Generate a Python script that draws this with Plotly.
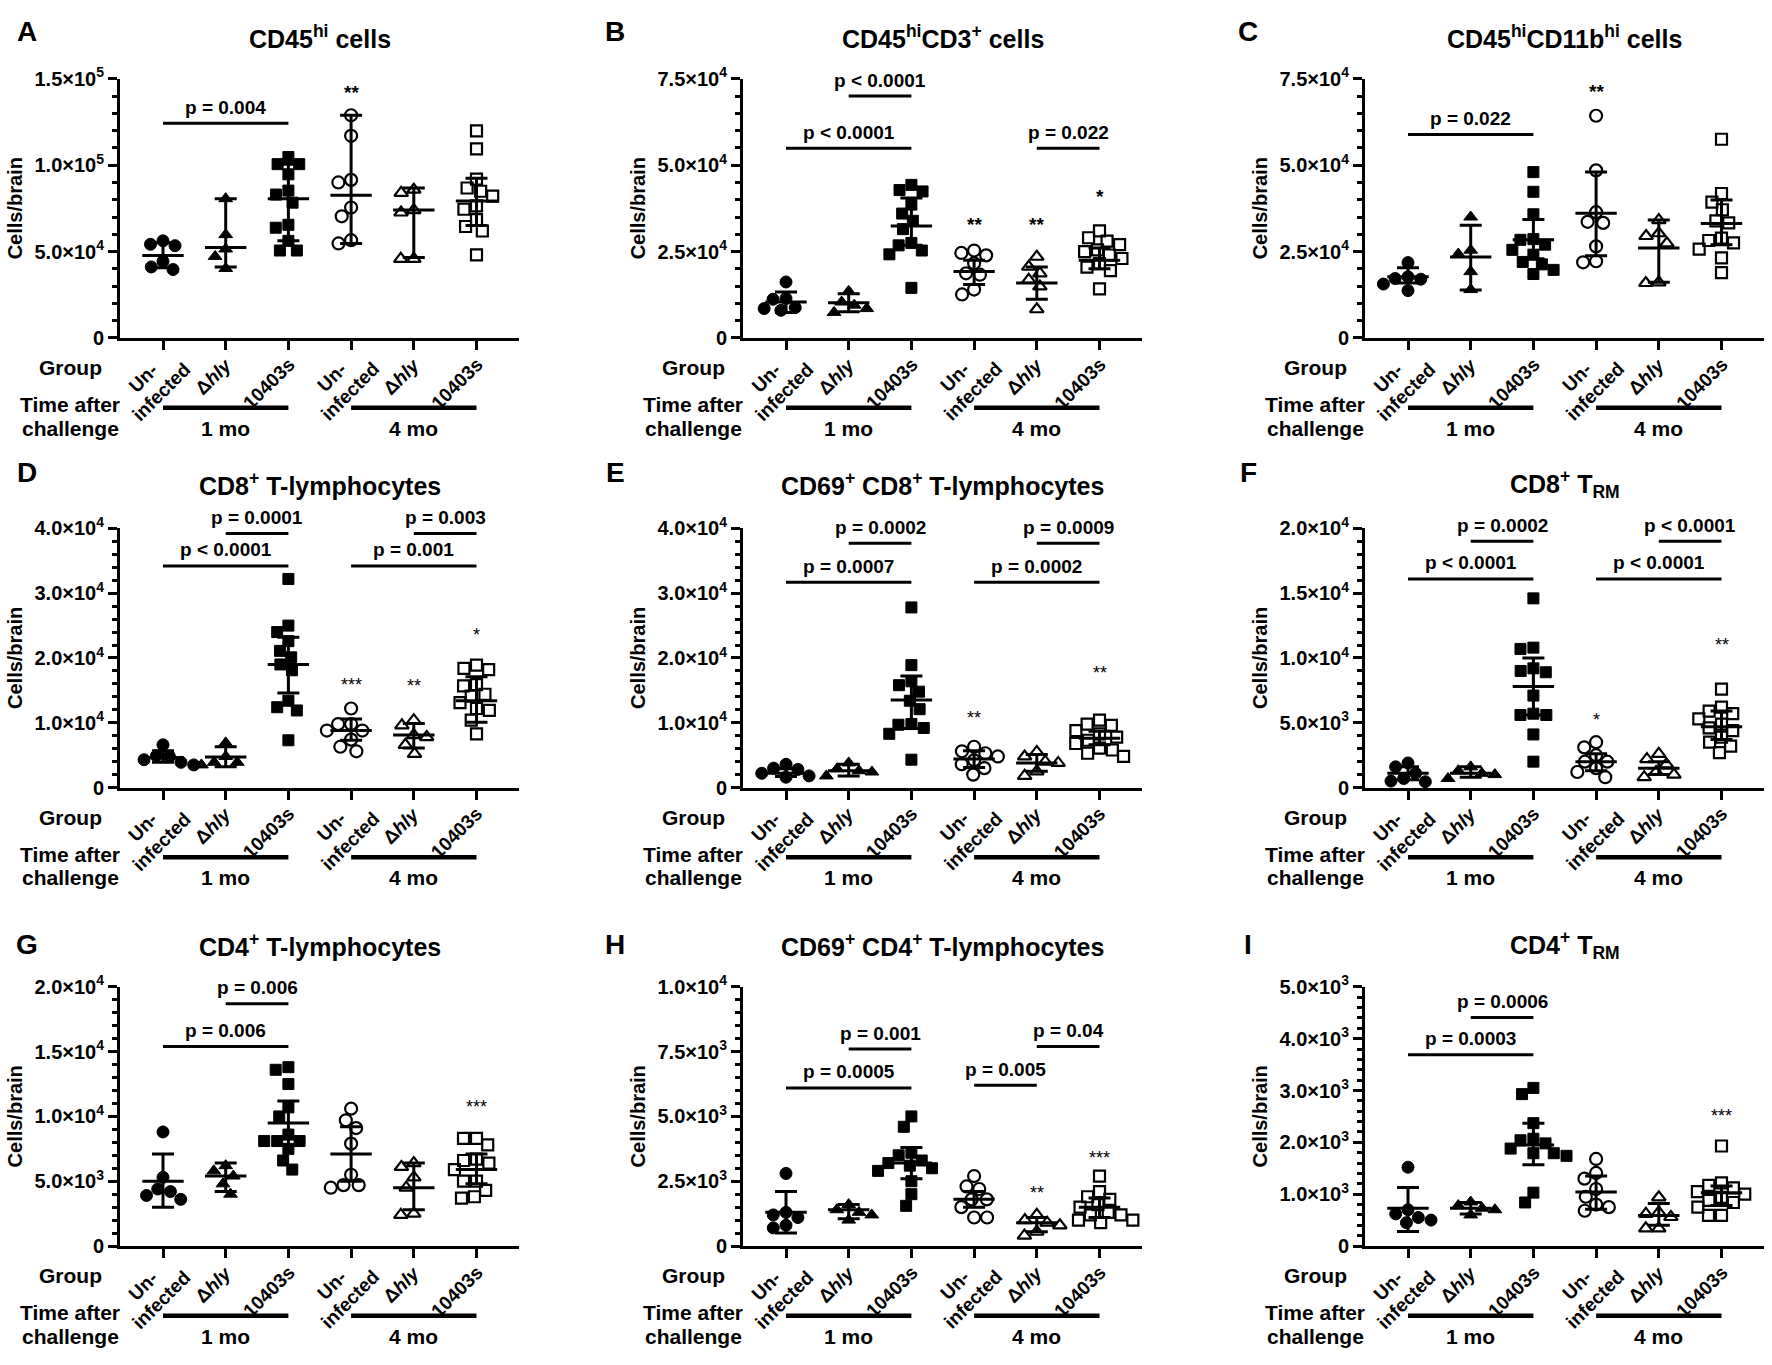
import numpy as np
import plotly.graph_objects as go

# values, in thousands of cells per brain
# group order: 1 mo (uninfected, dhly, 10403s), 4 mo (uninfected, dhly, 10403s)

# --- A: CD45hi cells
A_pts = [[56.2, 54.2, 53.4, 44.3, 41.1, 39.6],
         [80.6, 59.8, 51.5, 47.2, 40.2],
         [104.7, 100.6, 100.6, 94.7, 85.3, 83.0, 78.3, 65.5, 63.8, 56.2, 50.6, 50.6],
         [128.9, 117.0, 91.5, 90.0, 75.5, 70.4, 56.6, 54.7],
         [85.8, 84.0, 74.0, 72.6, 45.8, 45.8],
         [119.8, 109.4, 91.9, 86.8, 84.9, 82.1, 76.4, 74.5, 68.5, 64.5, 61.9, 48.1]]
A_mid = [47.7, 52.3, 80.6, 82.6, 74.0, 79.2]
A_lo = [40.6, 41.1, 56.2, 54.7, 46.6, 65.1]
A_hi = [55.1, 80.6, 100.6, 128.9, 86.8, 92.5]
A_bars = [(0, 2, 124.2, "p = 0.004")]
A_stars = [(3, 142.0, "**")]

# --- B: CD45hi CD3+ cells
B_pts = [[16.2, 11.4, 11.2, 8.8, 8.5, 8.0],
         [13.5, 10.4, 9.5, 8.5, 7.4],
         [44.3, 42.8, 42.4, 38.6, 36.0, 33.9, 31.5, 27.5, 26.8, 25.3, 24.2, 14.5],
         [25.3, 24.6, 23.9, 21.6, 18.7, 18.3, 14.0, 12.6],
         [23.5, 20.6, 18.7, 16.8, 14.9, 8.3],
         [31.0, 29.0, 28.0, 27.0, 25.5, 25.0, 24.0, 23.0, 21.5, 20.5, 19.5, 14.2]]
B_mid = [10.4, 10.2, 32.4, 19.2, 15.9, 22.5]
B_lo = [7.4, 7.6, 26.8, 15.5, 11.2, 20.0]
B_hi = [13.3, 12.8, 40.5, 22.5, 20.5, 26.0]
B_bars = [(1, 2, 70.0, "p < 0.0001"), (0, 2, 54.9, "p < 0.0001"), (4, 5, 54.9, "p = 0.022")]
B_stars = [(3, 32.9, "**"), (4, 32.9, "**"), (5, 41.0, "*")]

# --- C: CD45hi CD11bhi cells
C_pts = [[21.8, 17.7, 17.2, 17.0, 15.6, 13.7],
         [35.0, 25.4, 24.3, 19.2, 14.0],
         [48.0, 42.3, 35.8, 28.6, 28.4, 27.0, 25.5, 24.1, 22.0, 21.3, 19.7, 18.5],
         [64.3, 48.5, 36.4, 33.6, 33.3, 26.5, 22.2, 21.9],
         [34.1, 30.3, 29.5, 27.4, 16.1, 15.9],
         [57.5, 41.8, 39.3, 37.1, 33.9, 33.3, 28.9, 28.2, 27.5, 25.7, 23.2, 18.9]]
C_mid = [17.7, 23.4, 28.4, 36.1, 26.0, 33.1]
C_lo = [15.9, 13.9, 22.9, 23.8, 16.1, 27.0]
C_hi = [20.3, 32.6, 34.3, 48.0, 34.1, 39.9]
C_bars = [(0, 2, 58.9, "p = 0.022")]
C_stars = [(3, 71.2, "**")]

# --- D: CD8+ T-lymphocytes
D_pts = [[6.6, 4.9, 4.8, 4.3, 3.9, 3.5],
         [6.9, 4.8, 3.9, 3.9, 3.5],
         [32.2, 25.0, 24.0, 22.6, 21.1, 20.1, 19.0, 18.1, 13.4, 12.4, 11.9, 7.3],
         [12.2, 9.8, 9.8, 8.8, 8.8, 7.4, 6.3, 5.6],
         [10.4, 9.6, 8.1, 7.8, 6.6, 5.2],
         [18.9, 18.4, 18.2, 15.9, 15.7, 14.4, 14.1, 13.1, 12.2, 11.9, 10.4, 8.3]]
D_mid = [4.65, 4.7, 19.0, 8.8, 8.1, 13.4]
D_lo = [3.9, 3.2, 14.6, 7.3, 6.1, 10.1]
D_hi = [5.7, 6.3, 23.2, 10.6, 9.9, 17.1]
D_bars = [(1, 2, 39.2, "p = 0.0001"), (0, 2, 34.2, "p < 0.0001"),
          (4, 5, 39.2, "p = 0.003"), (3, 5, 34.2, "p = 0.001")]
D_stars = [(3, 15.8, "***"), (4, 15.7, "**"), (5, 23.5, "*")]

# --- E: CD69+ CD8+ T-lymphocytes
E_pts = [[3.6, 3.0, 2.8, 2.2, 1.8, 1.6],
         [3.8, 2.9, 2.6, 2.4, 1.8],
         [27.8, 18.9, 16.4, 15.8, 14.8, 13.4, 12.1, 9.8, 9.7, 9.2, 8.3, 4.3],
         [6.3, 5.6, 5.3, 4.8, 4.2, 3.6, 3.0, 2.0],
         [5.5, 4.8, 4.0, 3.8, 2.5, 1.8],
         [10.4, 9.8, 9.6, 8.8, 8.3, 7.8, 7.3, 6.8, 6.1, 5.8, 5.3, 4.8]]
E_mid = [2.2, 2.6, 13.5, 4.4, 3.8, 7.6]
E_lo = [1.7, 1.8, 9.1, 3.1, 2.5, 6.6]
E_hi = [2.9, 3.6, 17.2, 5.7, 5.1, 8.7]
E_bars = [(1, 2, 37.7, "p = 0.0002"), (0, 2, 31.7, "p = 0.0007"),
          (4, 5, 37.7, "p = 0.0009"), (3, 5, 31.7, "p = 0.0002")]
E_stars = [(3, 10.7, "**"), (5, 17.7, "**")]

# --- F: CD8+ TRM
F_pts = [[1.9, 1.6, 1.1, 0.7, 0.5, 0.45],
         [1.6, 1.3, 1.1, 1.0, 0.7],
         [14.6, 10.8, 10.7, 9.2, 9.0, 8.9, 7.1, 5.7, 5.6, 5.6, 4.1, 2.0],
         [3.5, 3.1, 2.5, 2.0, 2.0, 1.5, 1.2, 0.8],
         [2.6, 2.2, 1.8, 1.2, 1.0, 0.8],
         [7.6, 6.2, 5.9, 5.7, 5.3, 4.9, 4.6, 4.4, 3.9, 3.5, 3.2, 2.7]]
F_mid = [1.1, 1.1, 7.8, 2.0, 1.5, 4.7]
F_lo = [0.6, 0.8, 5.6, 1.3, 1.0, 3.7]
F_hi = [1.6, 1.6, 10.0, 2.6, 2.0, 5.9]
F_bars = [(1, 2, 19.0, "p = 0.0002"), (0, 2, 16.1, "p < 0.0001"),
          (4, 5, 19.0, "p < 0.0001"), (3, 5, 16.1, "p < 0.0001")]
F_stars = [(3, 5.2, "*"), (5, 11.0, "**")]

# --- G: CD4+ T-lymphocytes
G_pts = [[8.8, 5.3, 4.4, 4.2, 3.9, 3.6],
         [6.2, 5.8, 5.4, 4.8, 4.0],
         [13.8, 13.6, 12.5, 10.7, 10.0, 8.6, 8.1, 8.1, 8.1, 7.5, 6.6, 5.9],
         [10.6, 9.7, 9.1, 7.9, 5.5, 4.7, 4.7, 4.5],
         [6.4, 6.1, 5.3, 4.5, 2.5, 2.4],
         [8.3, 8.3, 7.8, 6.7, 6.6, 6.4, 5.9, 5.0, 5.0, 4.3, 3.8, 3.7]]
G_mid = [5.0, 5.4, 9.5, 7.1, 4.5, 5.9]
G_lo = [3.0, 4.2, 7.8, 5.0, 2.8, 4.8]
G_hi = [7.1, 6.4, 11.2, 9.2, 6.4, 7.1]
G_bars = [(1, 2, 18.7, "p = 0.006"), (0, 2, 15.4, "p = 0.006")]
G_stars = [(5, 10.7, "***")]

# --- H: CD69+ CD4+ T-lymphocytes
H_pts = [[2.8, 1.3, 1.2, 1.1, 0.8, 0.7],
         [1.6, 1.4, 1.3, 1.2, 1.0],
         [5.0, 4.6, 3.6, 3.5, 3.3, 3.2, 3.1, 3.0, 2.9, 2.5, 2.0, 1.55],
         [2.7, 2.3, 2.2, 1.8, 1.8, 1.5, 1.1, 1.1],
         [1.2, 1.0, 0.9, 0.8, 0.55, 0.4],
         [2.7, 2.1, 1.9, 1.8, 1.6, 1.5, 1.3, 1.2, 1.2, 1.0, 1.0, 0.9]]
H_mid = [1.3, 1.4, 3.2, 1.8, 0.9, 1.5]
H_lo = [0.5, 1.05, 2.6, 1.5, 0.55, 1.1]
H_hi = [2.1, 1.6, 3.8, 2.1, 1.1, 1.85]
H_bars = [(1, 2, 7.6, "p = 0.001"), (0, 2, 6.1, "p = 0.0005"),
          (4, 5, 7.7, "p = 0.04"), (3, 4, 6.2, "p = 0.005")]
H_stars = [(4, 2.05, "**"), (5, 3.4, "***")]

# --- I: CD4+ TRM
I_pts = [[1.52, 0.7, 0.62, 0.55, 0.5, 0.45],
         [0.85, 0.78, 0.73, 0.7, 0.6],
         [3.05, 2.93, 2.37, 2.07, 2.04, 1.98, 1.88, 1.79, 1.79, 1.74, 1.03, 0.84],
         [1.68, 1.41, 1.3, 1.1, 0.95, 0.8, 0.75, 0.68],
         [0.94, 0.65, 0.62, 0.56, 0.34, 0.34],
         [1.93, 1.22, 1.17, 1.12, 1.05, 1.0, 0.94, 0.88, 0.84, 0.75, 0.59, 0.59]]
I_mid = [0.73, 0.73, 1.95, 1.04, 0.59, 1.03]
I_lo = [0.28, 0.62, 1.57, 0.71, 0.4, 0.78]
I_hi = [1.13, 0.84, 2.37, 1.35, 0.82, 1.16]
I_bars = [(1, 2, 4.41, "p = 0.0006"), (0, 2, 3.69, "p = 0.0003")]
I_stars = [(5, 2.5, "***")]

# y axes (thousands) and their labels
ticks_150 = [0, 50, 100, 150]
labels_150 = ["0", "5.0×10<sup>4</sup>", "1.0×10<sup>5</sup>", "1.5×10<sup>5</sup>"]
ticks_75 = [0, 25, 50, 75]
labels_75 = ["0", "2.5×10<sup>4</sup>", "5.0×10<sup>4</sup>", "7.5×10<sup>4</sup>"]
ticks_40 = [0, 10, 20, 30, 40]
labels_40 = ["0", "1.0×10<sup>4</sup>", "2.0×10<sup>4</sup>", "3.0×10<sup>4</sup>", "4.0×10<sup>4</sup>"]
ticks_20 = [0, 5, 10, 15, 20]
labels_20 = ["0", "5.0×10<sup>3</sup>", "1.0×10<sup>4</sup>", "1.5×10<sup>4</sup>", "2.0×10<sup>4</sup>"]
ticks_10 = [0, 2.5, 5, 7.5, 10]
labels_10 = ["0", "2.5×10<sup>3</sup>", "5.0×10<sup>3</sup>", "7.5×10<sup>3</sup>", "1.0×10<sup>4</sup>"]
ticks_5 = [0, 1, 2, 3, 4, 5]
labels_5 = ["0", "1.0×10<sup>3</sup>", "2.0×10<sup>3</sup>", "3.0×10<sup>3</sup>", "4.0×10<sup>3</sup>", "5.0×10<sup>3</sup>"]

panels = [
    dict(letter="A", title="CD45<sup>hi</sup> cells", pts=A_pts, mid=A_mid, lo=A_lo, hi=A_hi,
         bars=A_bars, stars=A_stars, ticks=ticks_150, labels=labels_150, minor=10),
    dict(letter="B", title="CD45<sup>hi</sup>CD3<sup>+</sup> cells", pts=B_pts, mid=B_mid, lo=B_lo, hi=B_hi,
         bars=B_bars, stars=B_stars, ticks=ticks_75, labels=labels_75, minor=5),
    dict(letter="C", title="CD45<sup>hi</sup>CD11b<sup>hi</sup> cells", pts=C_pts, mid=C_mid, lo=C_lo, hi=C_hi,
         bars=C_bars, stars=C_stars, ticks=ticks_75, labels=labels_75, minor=5),
    dict(letter="D", title="CD8<sup>+</sup> T-lymphocytes", pts=D_pts, mid=D_mid, lo=D_lo, hi=D_hi,
         bars=D_bars, stars=D_stars, ticks=ticks_40, labels=labels_40, minor=2),
    dict(letter="E", title="CD69<sup>+</sup> CD8<sup>+</sup> T-lymphocytes", pts=E_pts, mid=E_mid, lo=E_lo, hi=E_hi,
         bars=E_bars, stars=E_stars, ticks=ticks_40, labels=labels_40, minor=2),
    dict(letter="F", title="CD8<sup>+</sup> T<sub>RM</sub>", pts=F_pts, mid=F_mid, lo=F_lo, hi=F_hi,
         bars=F_bars, stars=F_stars, ticks=ticks_20, labels=labels_20, minor=1),
    dict(letter="G", title="CD4<sup>+</sup> T-lymphocytes", pts=G_pts, mid=G_mid, lo=G_lo, hi=G_hi,
         bars=G_bars, stars=G_stars, ticks=ticks_20, labels=labels_20, minor=1),
    dict(letter="H", title="CD69<sup>+</sup> CD4<sup>+</sup> T-lymphocytes", pts=H_pts, mid=H_mid, lo=H_lo, hi=H_hi,
         bars=H_bars, stars=H_stars, ticks=ticks_10, labels=labels_10, minor=0.5),
    dict(letter="I", title="CD4<sup>+</sup> T<sub>RM</sub>", pts=I_pts, mid=I_mid, lo=I_lo, hi=I_hi,
         bars=I_bars, stars=I_stars, ticks=ticks_5, labels=labels_5, minor=0.2),
]

# x labels: (text, x shift from tick, y offset below axis) in px
x_labels = [[("Un-", 2, 18), ("infected", 35, 18)],
            [("\u0394<i>hly</i>", 13, 13)],
            [("10403s", 13, 13)]]

# page geometry (px); the body margin is removed so the figure sits at 0,0
W, H = 1772, 1365
COL_X = [120, 743, 1365]      # y-axis line of each column
ROW_Y0 = [330, 788, 1255]     # y = 0 line of each row
LETTER_X = [27, 615, 1248]
LETTER_Y = [18, 467, 948]
TITLE_Y = [23, 479, 948]
PLOT_W, PLOT_H = 399, 264
TICK0, STEP = 43, 62.7        # first category offset and category spacing
FONT = "Liberation Sans, Arial, sans-serif"

symbols = ["circle", "triangle-up", "square", "circle-open", "triangle-up-open", "square-open"]
sizes = [12, 12, 11, 12, 12, 11]


def swarm(vals, px_per_unit, d=13.0):
    # simple beeswarm: put each point as close to the centre as it can go without overlap
    order = np.argsort(vals)[::-1]
    placed = []
    xs = np.zeros(len(vals))
    for i in order:
        y = vals[i] * px_per_unit
        cands = [0.0]
        for xj, yj in placed:
            dy = abs(y - yj)
            if dy < d:
                dx = np.sqrt(d * d - dy * dy)
                cands += [xj - dx, xj + dx]
        ok = [c for c in cands
              if all((c - xj) ** 2 + (y - yj) ** 2 >= d * d - 1e-6 for xj, yj in placed)]
        best = min(ok, key=lambda c: (round(abs(c), 6), c))
        xs[i] = best
        placed.append((best, y))
    return xs


def px_x(x):
    return min(max(x / W, 0), 1)


def px_y(y):
    return 1 - y / H


fig = go.Figure()
annotations = []
shapes = []
layout = {}
bold = dict(family=FONT, color="black", weight="bold")

for k, p in enumerate(panels):
    r, c = divmod(k, 3)
    xa = "x" if k == 0 else f"x{k + 1}"
    ya = "y" if k == 0 else f"y{k + 1}"
    ax0, y0 = COL_X[c], ROW_Y0[r]
    top = p["ticks"][-1]
    px_per = PLOT_H / top

    for g in range(6):
        v = np.array(p["pts"][g], dtype=float)
        off = swarm(v, px_per) / STEP
        fig.add_trace(go.Scatter(
            x=g + off, y=v, mode="markers", xaxis=xa, yaxis=ya, cliponaxis=False,
            marker=dict(symbol=symbols[g], size=sizes[g], color="black",
                        line=dict(color="black", width=2.2 if g >= 3 else 1))))

    mid = np.array(p["mid"])
    lo = np.array(p["lo"])
    hi = np.array(p["hi"])
    lx, ly = [], []
    for g in range(6):
        lx += [g - 0.33, g + 0.33, None]
        ly += [mid[g], mid[g], None]
    fig.add_trace(go.Scatter(x=lx, y=ly, mode="lines", xaxis=xa, yaxis=ya,
                             line=dict(color="black", width=3), cliponaxis=False))
    fig.add_trace(go.Scatter(
        x=list(range(6)), y=mid, mode="markers", xaxis=xa, yaxis=ya,
        marker=dict(size=1, opacity=0),
        error_y=dict(type="data", symmetric=False, array=hi - mid, arrayminus=mid - lo,
                     color="black", thickness=3, width=11)))

    minor_vals = list(np.arange(0, top + 1e-9, p["minor"]))
    layout["xaxis" if k == 0 else f"xaxis{k + 1}"] = dict(
        domain=[px_x(ax0), px_x(ax0 + PLOT_W)], anchor=ya,
        range=[-TICK0 / STEP, 5 + (PLOT_W - TICK0 - 5 * STEP) / STEP],
        tickvals=list(range(6)), showticklabels=False,
        ticks="outside", ticklen=9, tickwidth=3, tickcolor="black",
        showline=True, linewidth=3, linecolor="black", showgrid=False, zeroline=False)
    layout["yaxis" if k == 0 else f"yaxis{k + 1}"] = dict(
        domain=[px_y(y0), px_y(y0 - PLOT_H)], anchor=xa, range=[0, top],
        tickvals=p["ticks"], ticktext=p["labels"],
        ticks="outside", ticklen=9, tickwidth=3, tickcolor="black",
        minor=dict(tickvals=minor_vals, ticks="outside", ticklen=5, tickwidth=2.5, tickcolor="black"),
        showline=True, linewidth=3, linecolor="black", showgrid=False, zeroline=False,
        tickfont=dict(size=20, **bold))

    # panel letter and title
    annotations.append(dict(text=p["letter"], xref="paper", yref="paper",
                            x=px_x(LETTER_X[c]), y=px_y(LETTER_Y[r]),
                            xanchor="center", yanchor="middle", showarrow=False,
                            font=dict(size=28, **bold)))
    annotations.append(dict(text=p["title"], xref="paper", yref="paper",
                            x=px_x(ax0 + PLOT_W / 2), y=px_y(TITLE_Y[r]),
                            xanchor="center", yanchor="middle", showarrow=False,
                            font=dict(size=25, **bold)))
    annotations.append(dict(text="Cells/brain", xref="paper", yref="paper",
                            x=px_x(ax0 - 105), y=px_y(y0 - PLOT_H / 2), textangle=-90,
                            xanchor="center", yanchor="middle", showarrow=False,
                            font=dict(size=20, **bold)))
    # category labels, rotated
    for g in range(6):
        for txt, dx, dy in x_labels[g % 3]:
            annotations.append(dict(text=txt, xref=xa, yref="paper", x=g, xshift=dx,
                                    y=px_y(y0 + dy), textangle=-45,
                                    xanchor="right", yanchor="top", showarrow=False,
                                    font=dict(size=19, **bold)))
    # row labels under the axis
    for txt, dy in [("Group", 30), ("Time after", 68), ("challenge", 92)]:
        annotations.append(dict(text=txt, xref="paper", yref="paper",
                                x=px_x(ax0 - 50), y=px_y(y0 + dy),
                                xanchor="center", yanchor="middle", showarrow=False,
                                font=dict(size=21, **bold)))
    for a, b, txt in [(0, 2, "1 mo"), (3, 5, "4 mo")]:
        shapes.append(dict(type="line", xref=xa, yref="paper", x0=a, x1=b,
                           y0=px_y(y0 + 71), y1=px_y(y0 + 71), line=dict(color="black", width=4.5)))
        annotations.append(dict(text=txt, xref=xa, yref="paper", x=(a + b) / 2, y=px_y(y0 + 92),
                                xanchor="center", yanchor="middle", showarrow=False,
                                font=dict(size=21, **bold)))
    # comparison bars
    for a, b, yv, txt in p["bars"]:
        shapes.append(dict(type="line", xref=xa, yref=ya, x0=a, x1=b, y0=yv, y1=yv,
                           line=dict(color="black", width=3)))
        annotations.append(dict(text=txt, xref=xa, yref=ya, x=(a + b) / 2, y=yv, yshift=16,
                                xanchor="center", yanchor="middle", showarrow=False,
                                font=dict(size=19, **bold)))
    for g, yv, txt in p["stars"]:
        annotations.append(dict(text=txt, xref=xa, yref=ya, x=g, y=yv,
                                xanchor="center", yanchor="middle", showarrow=False,
                                font=dict(family=FONT, size=19 if r == 0 else 18, color="black",
                                          weight="bold" if r == 0 else "normal")))

fig.update_layout(
    width=W, height=H, margin=dict(l=0, r=0, t=0, b=0),
    paper_bgcolor="white", plot_bgcolor="white", showlegend=False,
    annotations=annotations, shapes=shapes, **layout)

fig.write_html("out.html", config={"displayModeBar": False},
               post_script="document.body.style.margin='0';document.body.style.overflow='hidden';")
